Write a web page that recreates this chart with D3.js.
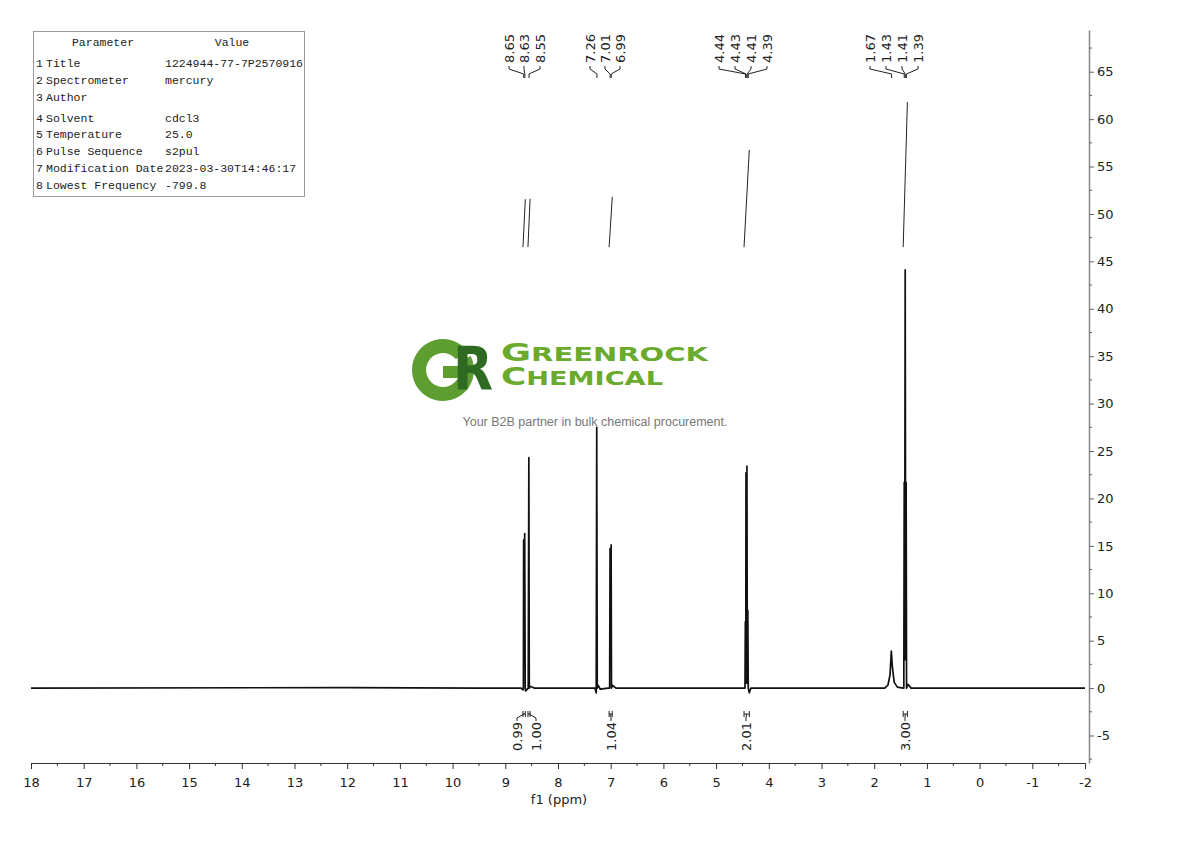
<!DOCTYPE html>
<html><head><meta charset="utf-8">
<script src="https://cdn.jsdelivr.net/npm/d3@7"></script>
<style>
body{margin:0;background:#fff;}
svg{display:block;}
</style></head>
<body>
<svg id="chart" width="1190" height="841"></svg>
<script>
// ---------- DATA ----------
const xTicks = [18,17,16,15,14,13,12,11,10,9,8,7,6,5,4,3,2,1,0,-1,-2];
const yTicks = [-5,0,5,10,15,20,25,30,35,40,45,50,55,60,65];
// spectrum points [ppm, intensity]
const spectrum = [
  [18,0],[12,0.05],[9.5,0],[8.70,0],[8.665,-0.2],[8.657,0],[8.652,15.6],[8.643,12.5],[8.632,16.3],[8.622,0],[8.615,-0.3],
  [8.565,0],[8.553,24.3],[8.545,0],[8.53,0.2],[8.45,0],[8.0,0],[7.6,0],[7.30,0],[7.275,-0.5],[7.265,27.5],[7.255,0],[7.24,0.3],[7.2,-0.1],
  [7.05,0],[7.020,0],[7.012,14.7],[7.003,6],[6.992,15.1],[6.985,0],[6.97,0.3],[6.9,0],
  [5.5,0],[4.47,0],[4.452,0],[4.445,7.0],[4.437,0.5],[4.433,22.7],[4.425,3],[4.415,23.4],[4.407,0.5],[4.398,8.2],[4.39,0],[4.37,-0.5],[4.34,0],
  [2.5,0],[1.80,0],[1.74,0.3],[1.70,1.4],[1.675,3.9],[1.655,2.2],[1.62,0.6],[1.56,0.1],[1.45,0],[1.438,0],[1.430,21.7],[1.423,3],[1.412,44.1],[1.402,3],[1.394,21.7],[1.386,0],[1.36,0.4],[1.30,0],
  [0.5,0],[-1,0],[-2,0]
];
// peak labels
const peakLabels = [8.65,8.63,8.55,7.26,7.01,6.99,4.44,4.43,4.41,4.39,1.67,1.43,1.41,1.39];
const peakLabelX = [509,524,540,590,605,620,719,735,751,767,870,886,902,918];
// integrals: [from ppm, to ppm, value]
const integralFrom = [8.665,8.57,7.03,4.47,1.45];
const integralTo = [8.62,8.53,6.97,4.37,1.37];
const integralValues = ["0.99","1.00","1.04","2.01","3.00"];
const integralLabelX = [517,536,611,746,905];
const integralBase = 46.5;
const integralScale = 5.1;
// parameter table
const paramNames = ["Title","Spectrometer","Author","Solvent","Temperature","Pulse Sequence","Modification Date","Lowest Frequency"];
const paramValues = ["1224944-77-7P2570916","mercury","","cdcl3","25.0","s2pul","2023-03-30T14:46:17","-799.8"];
const paramRowY = [63,80,97,118,134,151,168,185];

// ---------- SCALES ----------
const svg = d3.select("#chart");
const x = d3.scaleLinear().domain([18,-2]).range([31,1085]);
const y = d3.scaleLinear().domain([-7.9,69.4]).range([763,30]);
const font = "'DejaVu Sans', Verdana, sans-serif";

// ---------- WATERMARK ----------
const wm = svg.append("g");
const gCx = 443, gCy = 370;
wm.append("path")
  .attr("d", d3.arc()({innerRadius:17, outerRadius:31, startAngle:0.35*Math.PI, endAngle:2.28*Math.PI}))
  .attr("transform",`translate(${gCx},${gCy})`).attr("fill","#5e9d2f");
wm.append("rect").attr("x",gCx).attr("y",gCy-4).attr("width",27).attr("height",12).attr("fill","#5e9d2f");
wm.append("text").attr("x",453).attr("y",390).attr("font-family","'DejaVu Sans', sans-serif")
  .attr("font-weight","bold").attr("font-size",60).attr("fill","#2f6a22").attr("textLength",40).attr("lengthAdjust","spacingAndGlyphs").text("R");
wm.append("text").attr("x",501).attr("y",361).attr("font-family","'DejaVu Sans', sans-serif").attr("font-weight","bold")
  .attr("fill","#6aaa2c").attr("textLength",207).attr("lengthAdjust","spacingAndGlyphs")
  .call(t=>{t.append("tspan").attr("font-size",24).text("G");t.append("tspan").attr("font-size",19).text("REENROCK");});
wm.append("text").attr("x",501).attr("y",385).attr("font-family","'DejaVu Sans', sans-serif").attr("font-weight","bold")
  .attr("fill","#6aaa2c").attr("textLength",162).attr("lengthAdjust","spacingAndGlyphs")
  .call(t=>{t.append("tspan").attr("font-size",24).text("C");t.append("tspan").attr("font-size",19).text("HEMICAL");});
wm.append("text").attr("x",595).attr("y",426).attr("text-anchor","middle").attr("font-family","'Liberation Sans', Arial, sans-serif")
  .attr("font-size",12.5).attr("fill","#777").text("Your B2B partner in bulk chemical procurement.");

// ---------- AXES ----------
const fmt = d => String(d);
const xAxis = svg.append("g").attr("transform","translate(0,763)")
  .call(d3.axisBottom(x).tickValues(xTicks).tickFormat(fmt).tickSize(6).tickPadding(9).tickSizeOuter(0));
xAxis.selectAll("text").attr("font-family",font).attr("font-size",13).attr("fill","#222");
xAxis.select(".domain").attr("stroke","#333");
xAxis.selectAll(".tick line").attr("stroke","#333");
const xMinor = d3.range(0,20).map(i=>17.5-i);
svg.append("g").selectAll("line").data(xMinor).join("line")
  .attr("x1",d=>x(d)).attr("x2",d=>x(d)).attr("y1",763).attr("y2",766).attr("stroke","#333");
svg.append("text").attr("x",559).attr("y",804).attr("text-anchor","middle").attr("font-family",font).attr("font-size",13).attr("fill","#222").text("f1 (ppm)");

const yAxis = svg.append("g").attr("transform","translate(1089,0)")
  .call(d3.axisRight(y).tickValues(yTicks).tickFormat(fmt).tickSize(5).tickPadding(3).tickSizeOuter(0));
yAxis.selectAll("text").attr("font-family",font).attr("font-size",13).attr("fill","#222");
yAxis.select(".domain").attr("stroke","#888").attr("stroke-width",1.5);
yAxis.selectAll(".tick line").attr("stroke","#666");
const yMinor = d3.range(-7.5,69,5);
svg.append("g").selectAll("line").data(yMinor).join("line")
  .attr("x1",1089).attr("x2",1092).attr("y1",d=>y(d)).attr("y2",d=>y(d)).attr("stroke","#666");

// ---------- SPECTRUM ----------
svg.append("path").datum(spectrum)
  .attr("d", d3.line().x(d=>x(d[0])).y(d=>y(d[1])))
  .attr("fill","none").attr("stroke","#111").attr("stroke-width",1.7).attr("stroke-linejoin","round");

// ---------- INTEGRAL CURVES ----------
integralValues.forEach((v,i)=>{
  const h = integralBase + integralScale*(+v);
  svg.append("path").datum([[integralFrom[i],integralBase],[integralTo[i],h]])
    .attr("d", d3.line().x(d=>x(d[0])).y(d=>y(d[1])))
    .attr("fill","none").attr("stroke","#222").attr("stroke-width",1);
});

// ---------- PEAK LABELS ----------
const pl = svg.append("g");
peakLabels.forEach((p,i)=>{
  pl.append("text").attr("transform",`translate(${peakLabelX[i]+4.5},63) rotate(-90)`)
    .attr("font-family",font).attr("font-size",13).attr("fill","#222").text(p.toFixed(2));
  pl.append("path").attr("d", d3.line()([[peakLabelX[i],66],[peakLabelX[i],69],[x(p),74],[x(p),78]]))
    .attr("fill","none").attr("stroke","#222").attr("stroke-width",1);
});

// ---------- INTEGRAL LABELS ----------
const il = svg.append("g");
integralValues.forEach((v,i)=>{
  il.append("text").attr("transform",`translate(${integralLabelX[i]+4.5},722) rotate(-90)`)
    .attr("text-anchor","end").attr("font-family",font).attr("font-size",13).attr("fill","#222").text(v);
  const x0 = x(integralFrom[i]), x1 = x(integralTo[i]);
  il.append("path").attr("d", `M${x0},711V717M${x1},711V717M${x0},714H${x1}`).attr("stroke","#222").attr("fill","none");
  il.append("path").attr("d", d3.line()([[integralLabelX[i],721],[integralLabelX[i],718],[(x0+x1)/2,714]]))
    .attr("stroke","#222").attr("fill","none");
});

// ---------- PARAMETER TABLE ----------
const tb = svg.append("g");
tb.append("rect").attr("x",33.5).attr("y",31.5).attr("width",271).attr("height",165).attr("fill","#fff").attr("stroke","#999");
const mono = "'Liberation Mono', 'DejaVu Sans Mono', monospace";
tb.append("text").attr("x",103).attr("y",46).attr("text-anchor","middle").attr("font-family",mono).attr("font-size",11.5).attr("fill","#222").text("Parameter");
tb.append("text").attr("x",232).attr("y",46).attr("text-anchor","middle").attr("font-family",mono).attr("font-size",11.5).attr("fill","#222").text("Value");
paramNames.forEach((n,i)=>{
  tb.append("text").attr("x",36).attr("y",paramRowY[i]+4).attr("font-family",mono).attr("font-size",11.5).attr("fill","#222").text(i+1);
  tb.append("text").attr("x",46).attr("y",paramRowY[i]+4).attr("font-family",mono).attr("font-size",11.5).attr("fill","#222").text(n);
  tb.append("text").attr("x",165).attr("y",paramRowY[i]+4).attr("font-family",mono).attr("font-size",11.5).attr("fill","#222").text(paramValues[i]);
});
</script>
</body></html>
